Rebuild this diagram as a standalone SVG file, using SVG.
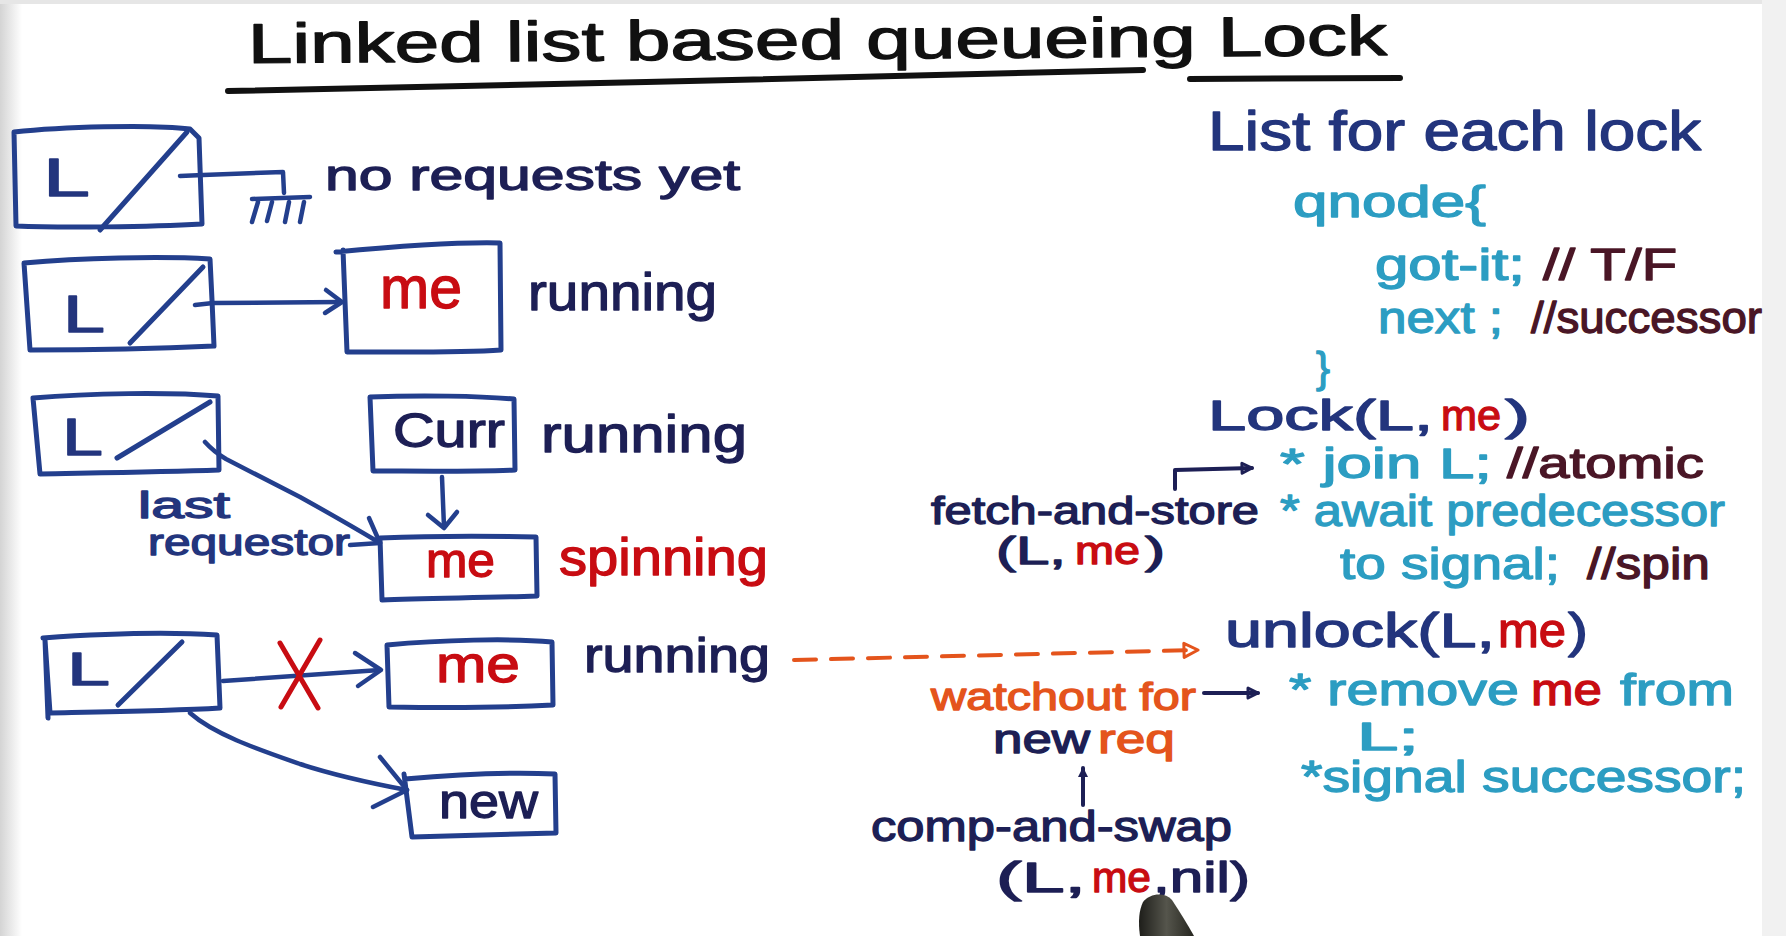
<svg xmlns="http://www.w3.org/2000/svg" width="1786" height="936" viewBox="0 0 1786 936">
  <defs>
    <style>
      .t { font-family: "Liberation Sans", Arial, sans-serif; stroke-width: 1.3; stroke-linejoin: round; }
      .bx { fill: none; stroke: #233f8d; stroke-width: 5; stroke-linecap: round; stroke-linejoin: round; }
      .ln { fill: none; stroke: #233f8d; stroke-width: 4.5; stroke-linecap: round; stroke-linejoin: round; }
      .dk { fill: none; stroke: #1d1f55; stroke-width: 4; stroke-linecap: round; stroke-linejoin: round; }
      .nv { fill: #1d1f55; stroke: #1d1f55; }
      .bl { fill: #23357d; stroke: #23357d; }
      .tl { fill: #2c9dc2; stroke: #2c9dc2; }
      .mr { fill: #4a1626; stroke: #4a1626; }
      .rd { fill: #c80c12; stroke: #c80c12; }
      .or { fill: #e4541c; stroke: #e4541c; }
      .bk { fill: #111111; stroke: #111111; }
    </style>
    <linearGradient id="edge" x1="0" y1="0" x2="1" y2="0">
      <stop offset="0" stop-color="#d4d4d4"/>
      <stop offset="1" stop-color="#ffffff"/>
    </linearGradient>
    <linearGradient id="pen" x1="0" y1="0" x2="1" y2="0">
      <stop offset="0" stop-color="#1e1e1a"/>
      <stop offset="0.5" stop-color="#55554c"/>
      <stop offset="1" stop-color="#26261f"/>
    </linearGradient>
    <!-- open triangular heads used on the right-hand notes -->
    <marker id="triNavy" viewBox="0 0 14 14" refX="12" refY="7" markerWidth="14" markerHeight="14" markerUnits="userSpaceOnUse" orient="auto">
      <path d="M2,2 L12,7 L2,12 Z" fill="none" stroke="#1d1f55" stroke-width="3" stroke-linejoin="round"/>
    </marker>
    <marker id="triOrange" viewBox="0 0 18 18" refX="16" refY="9" markerWidth="18" markerHeight="18" markerUnits="userSpaceOnUse" orient="auto">
      <path d="M2,2 L16,9 L2,16 Z" fill="none" stroke="#e4541c" stroke-width="3" stroke-linejoin="round"/>
    </marker>
    <marker id="solidHead" viewBox="0 0 12 12" refX="10" refY="6" markerWidth="12" markerHeight="12" markerUnits="userSpaceOnUse" orient="auto">
      <path d="M1,1 L11,6 L1,11 Z" fill="#1d1f55"/>
    </marker>
  </defs>

  <!-- board -->
  <rect width="1786" height="936" fill="#ffffff"/>
  <rect x="0" y="0" width="22" height="936" fill="url(#edge)"/>
  <rect x="0" y="0" width="1786" height="4" fill="#e6e6e6"/>
  <rect x="1762" y="0" width="24" height="936" fill="#f1f1f1"/>

  <!-- heading -->
  <g id="title">
    <text class="t bk" x="248" y="63" font-size="56" textLength="1139" lengthAdjust="spacingAndGlyphs" transform="rotate(-0.4 248 63)">Linked list based queueing Lock</text>
    <path d="M228,91 C500,86 900,76 1143,70" fill="none" stroke="#111" stroke-width="6" stroke-linecap="round"/>
    <path d="M1190,79 L1400,78" fill="none" stroke="#111" stroke-width="6" stroke-linecap="round"/>
  </g>

  <!-- row 1: empty lock -->
  <g id="lock1">
    <path class="bx" d="M14,132 C60,127 150,124 190,129 L199,138 L202,224 C150,227 60,228 16,226 Z"/>
    <path class="bx" d="M187,132 L100,230"/>
    <text class="t bl" x="43" y="196" font-size="54" textLength="47" lengthAdjust="spacingAndGlyphs">L</text>
  </g>
  <text class="t nv" x="325" y="190" font-size="42" textLength="415" lengthAdjust="spacingAndGlyphs">no requests yet</text>

  <!-- row 2: one holder -->
  <g id="lock2">
    <path class="bx" d="M24,263 C80,258 160,256 210,259 L212,300 L214,346 C150,349 80,350 30,350 Z"/>
    <path class="bx" d="M203,267 L130,343"/>
    <text class="t bl" x="63" y="332" font-size="52" textLength="42" lengthAdjust="spacingAndGlyphs">L</text>
  </g>
  <g id="me2">
    <path class="bx" d="M336,252 C400,246 460,242 500,243 L501,350 C460,353 400,352 347,352 L343,250"/>
    <text class="t rd" x="380" y="308" font-size="60" textLength="82" lengthAdjust="spacingAndGlyphs">me</text>
  </g>
  <text class="t nv" x="528" y="310" font-size="52" textLength="189" lengthAdjust="spacingAndGlyphs">running</text>

  <!-- row 3: holder plus waiter -->
  <g id="lock3">
    <path class="bx" d="M33,398 C90,393 170,392 218,396 L219,470 C160,472 90,473 40,474 L33,398"/>
    <path class="bx" d="M210,402 L117,458"/>
    <text class="t bl" x="62" y="455" font-size="52" textLength="41" lengthAdjust="spacingAndGlyphs">L</text>
  </g>
  <g id="curr">
    <path class="bx" d="M370,397 C420,395 480,396 514,399 L515,470 C470,472 410,471 373,471 Z"/>
    <text class="t nv" x="393" y="447" font-size="48" textLength="112" lengthAdjust="spacingAndGlyphs">Curr</text>
  </g>
  <text class="t nv" x="541" y="452" font-size="52" textLength="206" lengthAdjust="spacingAndGlyphs">running</text>
  <g id="me3">
    <path class="bx" d="M380,538 C430,536 490,536 536,537 L537,596 C480,598 420,598 382,600 L380,538"/>
    <text class="t rd" x="426" y="577" font-size="48" textLength="69" lengthAdjust="spacingAndGlyphs">me</text>
  </g>
  <text class="t rd" x="559" y="575" font-size="52" textLength="209" lengthAdjust="spacingAndGlyphs">spinning</text>
  <text class="t bl" x="138" y="518" font-size="36" textLength="92" lengthAdjust="spacingAndGlyphs">last</text>
  <text class="t bl" x="148" y="555" font-size="36" textLength="202" lengthAdjust="spacingAndGlyphs">requestor</text>

  <!-- row 4: release with a new arrival -->
  <g id="lock4">
    <path class="bx" d="M43,638 C100,634 170,632 217,635 L220,708 C170,711 100,712 50,713 L45,640 L48,718"/>
    <path class="bx" d="M182,642 L118,705"/>
    <text class="t bl" x="67" y="685" font-size="46" textLength="43" lengthAdjust="spacingAndGlyphs">L</text>
  </g>
  <g id="me4">
    <path class="bx" d="M387,645 C440,640 510,638 552,642 L553,705 C500,708 440,708 389,707 Z"/>
    <text class="t rd" x="436" y="682" font-size="52" textLength="84" lengthAdjust="spacingAndGlyphs">me</text>
  </g>
  <text class="t nv" x="584" y="672" font-size="48" textLength="186" lengthAdjust="spacingAndGlyphs">running</text>
  <g id="new">
    <path class="bx" d="M405,779 C450,775 510,772 555,774 L556,833 C500,835 450,836 412,837 L404,774"/>
    <text class="t nv" x="439" y="818" font-size="48" textLength="99" lengthAdjust="spacingAndGlyphs">new</text>
  </g>

  <!-- connectors -->
  <g id="connectors">
    <!-- row 1: null pointer to ground -->
    <path class="ln" d="M180,176 L203,175 L283,172 L284,193"/>
    <path class="ln" d="M252,199 L310,197"/>
    <path class="ln" d="M258,202 L252,222 M272,202 L267,221 M289,202 L285,222 M304,202 L300,222"/>
    <!-- row 2 -->
    <path class="ln" d="M195,305 L213,303 L340,302"/>
    <path class="ln" d="M326,290 L342,302 L325,313"/>
    <!-- row 3: last requestor -->
    <path class="ln" d="M205,442 Q214,452 226,459 L300,497 Q345,522 380,543"/>
    <path class="ln" d="M369,518 L380,543 L350,545"/>
    <!-- row 3: curr to waiter -->
    <path class="ln" d="M442,477 L444,527"/>
    <path class="ln" d="M428,515 L444,528 L457,512"/>
    <!-- row 4: old link, struck out -->
    <path class="ln" d="M223,681 L380,670"/>
    <path class="ln" d="M355,653 L381,670 L358,686"/>
    <path d="M280,643 L318,708 M320,640 L281,707" fill="none" stroke="#c80c12" stroke-width="5" stroke-linecap="round"/>
    <!-- row 4: new tail -->
    <path class="ln" d="M190,713 C215,735 260,750 300,764 C340,777 375,784 407,790"/>
    <path class="ln" d="M380,757 L407,790 L373,807"/>
    <!-- notes -->
    <path class="dk" d="M1175,489 L1175,470 L1252,468" marker-end="url(#triNavy)"/>
    <path d="M794,660 L1198,650" fill="none" stroke="#e4541c" stroke-width="4" stroke-dasharray="22 15" stroke-linecap="round" marker-end="url(#triOrange)"/>
    <path class="dk" d="M1204,693 L1258,693" marker-end="url(#triNavy)"/>
    <path class="dk" d="M1083,805 L1083,768" marker-end="url(#solidHead)"/>
  </g>

  <!-- notes on the right -->
  <g id="notes">
    <text class="t bl" x="1208" y="150" font-size="56" textLength="493" lengthAdjust="spacingAndGlyphs">List for each lock</text>
    <text class="t tl" x="1293" y="217" font-size="44" textLength="193" lengthAdjust="spacingAndGlyphs">qnode{</text>
    <text class="t tl" x="1375" y="280" font-size="44" textLength="150" lengthAdjust="spacingAndGlyphs">got-it;</text>
    <text class="t mr" x="1543" y="280" font-size="44" textLength="134" lengthAdjust="spacingAndGlyphs">// T/F</text>
    <text class="t tl" x="1378" y="333" font-size="44" textLength="125" lengthAdjust="spacingAndGlyphs">next ;</text>
    <text class="t mr" x="1531" y="333" font-size="44" textLength="231" lengthAdjust="spacingAndGlyphs">//successor</text>
    <text class="t tl" x="1316" y="382" font-size="42">}</text>

    <text class="t bl" x="1208" y="430" font-size="42" textLength="225" lengthAdjust="spacingAndGlyphs">Lock(L,</text>
    <text class="t rd" x="1441" y="430" font-size="42" textLength="60" lengthAdjust="spacingAndGlyphs">me</text>
    <text class="t bl" x="1505" y="430" font-size="42" textLength="25" lengthAdjust="spacingAndGlyphs">)</text>

    <text class="t tl" x="1280" y="478" font-size="42" textLength="212" lengthAdjust="spacingAndGlyphs">* join L;</text>
    <text class="t mr" x="1507" y="478" font-size="42" textLength="197" lengthAdjust="spacingAndGlyphs">//atomic</text>

    <text class="t nv" x="931" y="524" font-size="38" textLength="328" lengthAdjust="spacingAndGlyphs">fetch-and-store</text>
    <text class="t nv" x="996" y="564" font-size="38" textLength="70" lengthAdjust="spacingAndGlyphs">(L,</text>
    <text class="t rd" x="1075" y="564" font-size="38" textLength="65" lengthAdjust="spacingAndGlyphs">me</text>
    <text class="t nv" x="1145" y="564" font-size="38" textLength="20" lengthAdjust="spacingAndGlyphs">)</text>

    <text class="t tl" x="1280" y="526" font-size="44" textLength="445" lengthAdjust="spacingAndGlyphs">* await predecessor</text>
    <text class="t tl" x="1340" y="579" font-size="44" textLength="220" lengthAdjust="spacingAndGlyphs">to signal;</text>
    <text class="t mr" x="1587" y="579" font-size="44" textLength="123" lengthAdjust="spacingAndGlyphs">//spin</text>

    <text class="t bl" x="1225" y="647" font-size="48" textLength="270" lengthAdjust="spacingAndGlyphs">unlock(L,</text>
    <text class="t rd" x="1498" y="647" font-size="48" textLength="68" lengthAdjust="spacingAndGlyphs">me</text>
    <text class="t bl" x="1568" y="647" font-size="48" textLength="20" lengthAdjust="spacingAndGlyphs">)</text>

    <text class="t or" x="931" y="710" font-size="38" textLength="265" lengthAdjust="spacingAndGlyphs">watchout for</text>
    <text class="t tl" x="1289" y="705" font-size="44" textLength="230" lengthAdjust="spacingAndGlyphs">* remove</text>
    <text class="t rd" x="1531" y="705" font-size="44" textLength="71" lengthAdjust="spacingAndGlyphs">me</text>
    <text class="t tl" x="1620" y="705" font-size="44" textLength="114" lengthAdjust="spacingAndGlyphs">from</text>
    <text class="t tl" x="1357" y="750" font-size="38" textLength="62" lengthAdjust="spacingAndGlyphs">L;</text>

    <text class="t nv" x="993" y="753" font-size="40" textLength="97" lengthAdjust="spacingAndGlyphs">new</text>
    <text class="t or" x="1098" y="753" font-size="40" textLength="77" lengthAdjust="spacingAndGlyphs">req</text>

    <text class="t tl" x="1301" y="792" font-size="44" textLength="445" lengthAdjust="spacingAndGlyphs">*signal successor;</text>

    <text class="t nv" x="871" y="841" font-size="42" textLength="361" lengthAdjust="spacingAndGlyphs">comp-and-swap</text>
    <text class="t nv" x="996" y="892" font-size="42" textLength="90" lengthAdjust="spacingAndGlyphs">(L,</text>
    <text class="t rd" x="1092" y="892" font-size="42" textLength="59" lengthAdjust="spacingAndGlyphs">me</text>
    <text class="t nv" x="1153" y="892" font-size="42" textLength="97" lengthAdjust="spacingAndGlyphs">,nil)</text>
  </g>

  <!-- marker pen tip -->
  <path d="M1143,902 C1150,893 1165,892 1172,900 C1180,912 1188,925 1194,936 L1140,936 C1138,922 1139,910 1143,902 Z" fill="url(#pen)"/>
</svg>
